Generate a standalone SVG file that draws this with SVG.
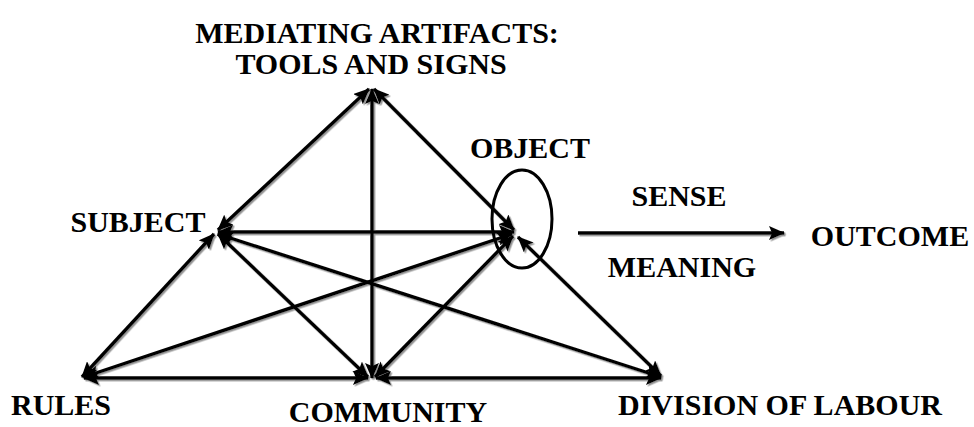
<svg xmlns="http://www.w3.org/2000/svg" width="974" height="427" viewBox="0 0 974 427">
<defs>
<style>
text{font-family:"Liberation Serif","Times New Roman",serif;font-weight:bold;font-size:30px;fill:#000;}
.e line{stroke:#000;stroke-width:3.4;marker-start:url(#ah);marker-end:url(#ah);}
.e line.one{marker-start:none;}
</style>
<marker id="ah" viewBox="0 0 16 14" refX="15" refY="7" markerWidth="16" markerHeight="14" markerUnits="userSpaceOnUse" orient="auto-start-reverse">
<path d="M0,0 L16,7 L0,14 L3,7 Z" fill="#000"/>
</marker>
<filter id="sh" x="-10%" y="-10%" width="120%" height="120%">
<feDropShadow dx="1.5" dy="1.5" stdDeviation="0.6" flood-color="#777" flood-opacity="0.8"/>
</filter>
</defs>
<rect width="974" height="427" fill="#fff"/>
<g id="connectors" class="e" filter="url(#sh)">
<line x1="218" y1="230" x2="369" y2="89"/>
<line x1="374" y1="89" x2="514" y2="230"/>
<line x1="372" y1="89" x2="372" y2="378"/>
<line x1="218" y1="232" x2="514" y2="232"/>
<line x1="214" y1="234" x2="82" y2="377"/>
<line x1="218" y1="234" x2="368" y2="377"/>
<line x1="218" y1="234" x2="661" y2="377"/>
<line x1="512" y1="234" x2="84" y2="377"/>
<line x1="513" y1="236" x2="375" y2="377"/>
<line x1="518" y1="237" x2="661" y2="376"/>
<line x1="84" y1="378" x2="368" y2="378"/>
<line x1="376" y1="378" x2="661" y2="378"/>
<line class="one" x1="578" y1="233" x2="784" y2="233"/>
</g>
<g id="object-ellipse"><ellipse cx="522" cy="219" rx="30" ry="49" fill="none" stroke="#000" stroke-width="3"/></g>
<g id="mediating"><text x="377" y="43" text-anchor="middle">MEDIATING ARTIFACTS:</text><text x="371" y="74" text-anchor="middle">TOOLS AND SIGNS</text></g>
<g id="object"><text x="530" y="158" text-anchor="middle">OBJECT</text></g>
<g id="subject"><text x="138" y="232" text-anchor="middle">SUBJECT</text></g>
<g id="sense"><text x="679" y="206" text-anchor="middle">SENSE</text></g>
<g id="meaning"><text x="682" y="277" text-anchor="middle">MEANING</text></g>
<g id="outcome"><text x="890" y="246" text-anchor="middle">OUTCOME</text></g>
<g id="rules"><text x="61" y="415" text-anchor="middle">RULES</text></g>
<g id="community"><text x="388" y="422" text-anchor="middle">COMMUNITY</text></g>
<g id="division"><text x="780" y="415" text-anchor="middle">DIVISION OF LABOUR</text></g>
</svg>
